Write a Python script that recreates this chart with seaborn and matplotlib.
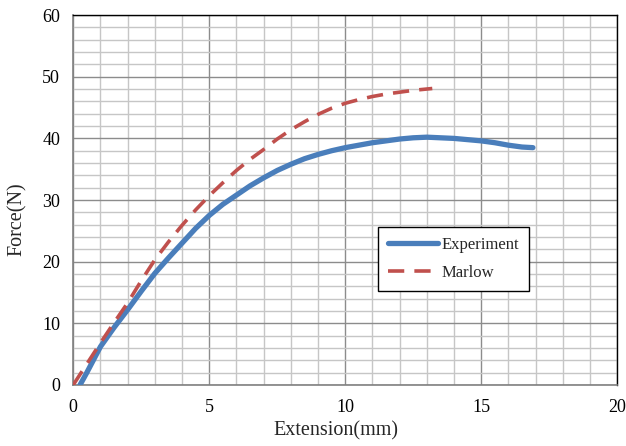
import matplotlib
matplotlib.use("Agg")
import matplotlib.pyplot as plt
from matplotlib.ticker import MultipleLocator
import seaborn as sns
import pandas as pd

# Measured force-extension response
exp_ext = [0.25, 0.5, 1.0, 1.5, 2.0, 2.5, 3.0, 3.5, 4.0, 4.5, 5.0, 5.5, 6.0, 6.5, 7.0,
           7.5, 8.0, 8.5, 9.0, 9.5, 10.0, 10.5, 11.0, 11.5, 12.0, 12.5, 13.0, 13.5,
           14.0, 14.5, 15.0, 15.5, 16.0, 16.5, 16.9]
exp_force = [0.0, 2.0, 6.2, 9.3, 12.2, 15.2, 18.1, 20.6, 23.0, 25.4, 27.5, 29.3, 30.8,
             32.3, 33.6, 34.8, 35.8, 36.7, 37.4, 38.0, 38.5, 38.9, 39.3, 39.6, 39.9,
             40.1, 40.2, 40.1, 40.0, 39.8, 39.6, 39.3, 38.9, 38.6, 38.5]

# Marlow hyperelastic model prediction
mar_ext = [0.0, 0.5, 1.0, 1.5, 2.0, 2.5, 3.0, 3.5, 4.0, 4.5, 5.0, 5.5, 6.0, 6.5, 7.0,
           7.5, 8.0, 8.5, 9.0, 9.5, 10.0, 10.5, 11.0, 11.5, 12.0, 12.5, 13.2]
mar_force = [0.0, 3.4, 6.8, 10.1, 13.3, 16.9, 20.3, 23.2, 25.9, 28.4, 30.7, 32.8, 34.8,
             36.6, 38.2, 39.9, 41.4, 42.7, 43.9, 44.9, 45.7, 46.3, 46.8, 47.2, 47.5,
             47.8, 48.1]

x_ticks = [0, 5, 10, 15, 20]
y_ticks = [0, 10, 20, 30, 40, 50, 60]

sns.set_style("white")
plt.rcParams["font.family"] = ["Liberation Serif", "DejaVu Serif"]

fig = plt.figure(figsize=(6.26, 4.46), dpi=100)
ax = fig.add_axes([0.117, 0.137, 0.869, 0.829])

exp_df = pd.DataFrame({"Extension": exp_ext, "Force": exp_force})
mar_df = pd.DataFrame({"Extension": mar_ext, "Force": mar_force})

sns.lineplot(data=exp_df, x="Extension", y="Force", ax=ax, color="#4a7ebb",
             lw=3.8, label="Experiment", sort=False, zorder=3)
sns.lineplot(data=mar_df, x="Extension", y="Force", ax=ax, color="#c0504d",
             lw=2.6, label="Marlow", sort=False, zorder=4, dashes=False)
ax.lines[-1].set_dashes([4.5, 2.8])

ax.set_xlim(0, 20)
ax.set_ylim(0, 60)
ax.set_xticks(x_ticks)
ax.set_yticks(y_ticks)
ax.xaxis.set_minor_locator(MultipleLocator(1))
ax.yaxis.set_minor_locator(MultipleLocator(2))
ax.grid(which="major", color="#8c8c8c", lw=1.0, zorder=0)
ax.grid(which="minor", color="#c6c6c6", lw=1.0, zorder=0)
ax.set_axisbelow(True)
ax.tick_params(which="both", length=0, labelsize=13, colors="black")
ax.tick_params(axis="x", pad=10)
ax.tick_params(axis="y", pad=9.5)

for side in ("top", "right"):
    ax.spines[side].set_color("black")
    ax.spines[side].set_linewidth(1.0)
for side in ("left", "bottom"):
    ax.spines[side].set_color("#808080")
    ax.spines[side].set_linewidth(1.2)

ax.set_xlabel("Extension(mm)", fontsize=14.5)
ax.xaxis.set_label_coords(0.483, -0.097)
ax.set_ylabel("Force(N)", fontsize=14.5)
ax.yaxis.set_label_coords(-0.085, 0.449)

leg = ax.legend(loc="upper left", bbox_to_anchor=(0.561, 0.427), frameon=True,
                fancybox=False, edgecolor="black", framealpha=1, fontsize=12,
                handlelength=3.0, borderpad=0.6, labelspacing=0.7,
                handletextpad=0.2, borderaxespad=0)
leg.get_frame().set_linewidth(1.0)

fig.savefig("out.png", dpi=100)
